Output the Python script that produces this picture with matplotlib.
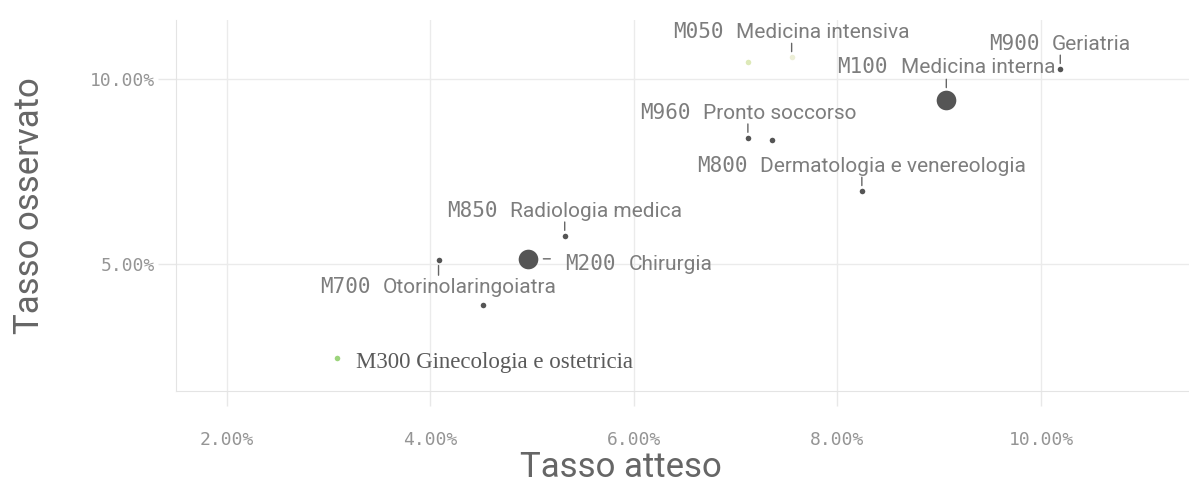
import matplotlib
matplotlib.use('Agg')
import matplotlib.pyplot as plt
from matplotlib.offsetbox import TextArea, HPacker, AnnotationBbox
from matplotlib.ticker import FuncFormatter

# dati (tassi in %)
codici = ['M050', '', 'M900', 'M100', 'M960', '', 'M800', 'M850', 'M700', 'M200', '', 'M300']
reparti = ['Medicina intensiva', '', 'Geriatria', 'Medicina interna', 'Pronto soccorso', '',
           'Dermatologia e venereologia', 'Radiologia medica', 'Otorinolaringoiatra',
           'Chirurgia', '', 'Ginecologia e ostetricia']
tasso_atteso = [7.55, 7.12, 10.19, 9.07, 7.12, 7.36, 8.24, 5.32, 4.08, 4.96, 4.52, 3.08]
tasso_osservato = [10.59, 10.46, 10.27, 9.43, 8.41, 8.35, 6.97, 5.76, 5.11, 5.14, 3.89, 2.46]
x_ticks = [2, 4, 6, 8, 10]
y_ticks = [5, 10]

# stile dei punti
grandi = ['M100', 'M200']
colore_punti = ['#eceed6', '#dde9b8', '#555555', '#555555', '#555555', '#555555',
                '#555555', '#555555', '#555555', '#555555', '#555555', '#9cd47c']
posizione = {'M700': 'sotto', 'M200': 'destra', 'M300': 'destra'}

GRIGIO = '#7d7d7d'
mono = dict(family='DejaVu Sans Mono', size=15, color=GRIGIO)
sans = dict(family='Roboto', size=15, color=GRIGIO)


def main():
    fig = plt.figure(figsize=(11.89, 4.86), dpi=100)
    ax = fig.add_axes([176 / 1189, 95 / 486, 1 - 176 / 1189, 371 / 486])

    for i in range(len(tasso_atteso)):
        x = tasso_atteso[i]
        y = tasso_osservato[i]
        cod = codici[i]
        grande = cod in grandi
        ax.scatter(x, y, s=200 if grande else 16, c=colore_punti[i], linewidths=0, zorder=3)
        if cod == '':
            continue

        dove = posizione.get(cod, 'sopra')
        if cod == 'M300':
            box = TextArea(cod + ' ' + reparti[i],
                           textprops=dict(family='Liberation Serif', size=16.5, color='#5a5a5a'))
        else:
            box = HPacker(children=[TextArea(cod, textprops=mono),
                                    TextArea(reparti[i], textprops=sans)],
                          align='baseline', pad=0, sep=9)

        if dove == 'sopra':
            dy = 24 if grande else 18
            ab = AnnotationBbox(box, (x, y), xybox=(0, dy), boxcoords='offset points',
                                box_alignment=(0.5, 0.5), frameon=False, pad=0,
                                annotation_clip=False)
            ax.annotate('', xy=(x, y), xytext=(0, 15 if grande else 10),
                        textcoords='offset points',
                        arrowprops=dict(arrowstyle='-', color='#666666', lw=1,
                                        shrinkA=0, shrinkB=9 if grande else 4))
        elif dove == 'sotto':
            ab = AnnotationBbox(box, (x, y), xybox=(0, -19.5), boxcoords='offset points',
                                box_alignment=(0.5, 0.5), frameon=False, pad=0,
                                annotation_clip=False)
            ax.annotate('', xy=(x, y), xytext=(0, -11), textcoords='offset points',
                        arrowprops=dict(arrowstyle='-', color='#666666', lw=1,
                                        shrinkA=0, shrinkB=4))
        else:
            if grande:
                ab = AnnotationBbox(box, (x, y), xybox=(27, -4), boxcoords='offset points',
                                    box_alignment=(0, 0.5), frameon=False, pad=0,
                                    annotation_clip=False)
                ax.annotate('', xy=(x, y), xytext=(16, 0), textcoords='offset points',
                            arrowprops=dict(arrowstyle='-', color='#666666', lw=1,
                                            shrinkA=0, shrinkB=11))
            else:
                ab = AnnotationBbox(box, (x, y), xybox=(14, -3), boxcoords='offset points',
                                    box_alignment=(0, 0.5), frameon=False, pad=0,
                                    annotation_clip=False)
        ax.add_artist(ab)

    ax.set_xlim(1.5, 11.455)
    ax.set_ylim(1.568, 11.595)
    ax.set_xticks(x_ticks)
    ax.set_yticks(y_ticks)
    fmt = FuncFormatter(lambda v, p: '%.2f%%' % v)
    ax.xaxis.set_major_formatter(fmt)
    ax.yaxis.set_major_formatter(fmt)

    ax.grid(color='#ebebeb', lw=1)
    ax.set_axisbelow(True)
    for lato in ['top', 'right']:
        ax.spines[lato].set_visible(False)
    for lato in ['left', 'bottom']:
        ax.spines[lato].set_color('#e4e4e4')

    ax.tick_params(axis='x', length=11, width=1, color='#e8e8e8', pad=18, labelsize=13,
                   labelcolor='#959595', labelfontfamily='DejaVu Sans Mono')
    ax.tick_params(axis='y', length=13, width=1, color='#e8e8e8', pad=2, labelsize=13,
                   labelcolor='#959595', labelfontfamily='DejaVu Sans Mono')

    ax.set_xlabel('Tasso atteso', family='Roboto', size=25, color='#666666')
    ax.set_ylabel('Tasso osservato', family='Roboto', size=25, color='#666666')
    ax.xaxis.set_label_coords(0.439, -0.163)
    ax.yaxis.set_label_coords(-0.128, 0.5)

    fig.savefig('out.png', dpi=100)


if __name__ == '__main__':
    main()
